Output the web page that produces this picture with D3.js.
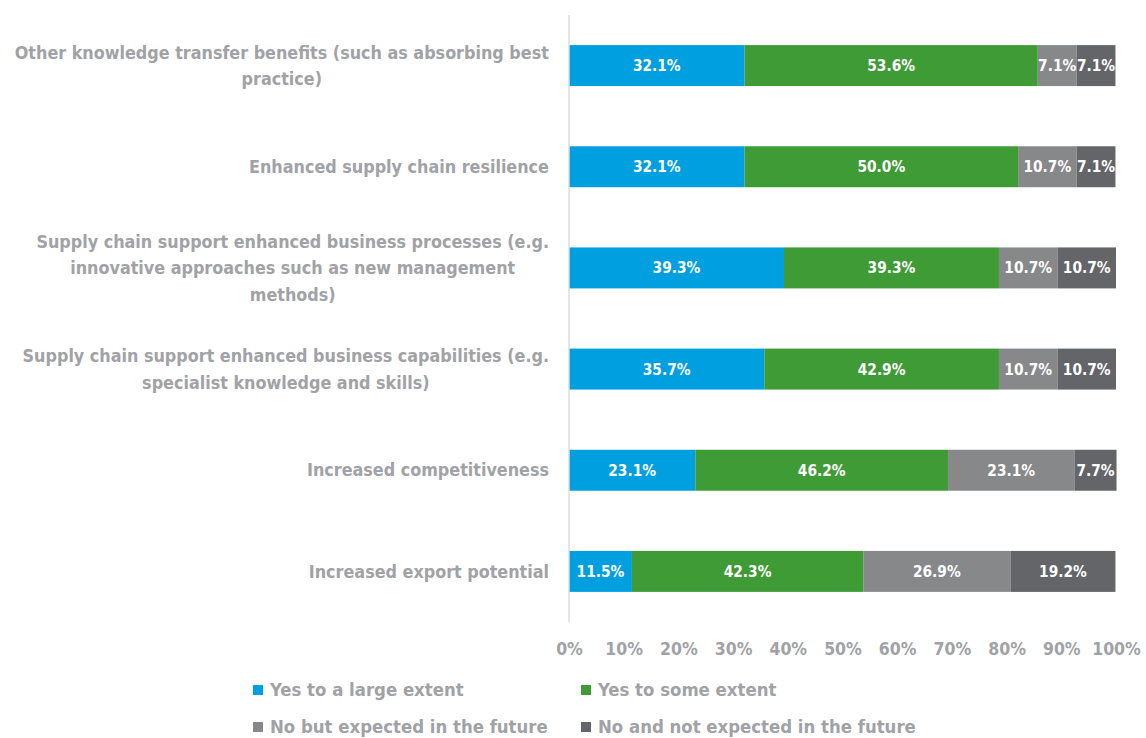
<!DOCTYPE html>
<html>
<head>
<meta charset="utf-8">
<script src="https://cdn.jsdelivr.net/npm/d3@7"></script>
<style>
  html, body { margin: 0; padding: 0; background: #ffffff; }
  svg text { font-family: "DejaVu Sans Condensed", "Liberation Sans Narrow", "Liberation Sans", sans-serif; font-weight: bold; }
</style>
</head>
<body>
<svg id="chart" width="1146" height="738"></svg>
<script>
// Survey categories (top to bottom), each split into display lines
const categories = [
  ["Other knowledge transfer benefits (such as absorbing best", "practice)"],
  ["Enhanced supply chain resilience"],
  ["Supply chain support enhanced business processes (e.g.", "innovative approaches such as new management", "methods)"],
  ["Supply chain support enhanced business capabilities (e.g.", "specialist knowledge and skills)"],
  ["Increased competitiveness"],
  ["Increased export potential"]
];

const seriesNames = [
  "Yes to a large extent",
  "Yes to some extent",
  "No but expected in the future",
  "No and not expected in the future"
];

// Percentage shares per category, one array per response
const largeExtent   = [32.1, 32.1, 39.3, 35.7, 23.1, 11.5];
const someExtent    = [53.6, 50.0, 39.3, 42.9, 46.2, 42.3];
const expectedLater = [7.1, 10.7, 10.7, 10.7, 23.1, 26.9];
const notExpected   = [7.1, 7.1, 10.7, 10.7, 7.7, 19.2];

const tickValues = [0, 10, 20, 30, 40, 50, 60, 70, 80, 90, 100];

const colors = ["#009fe0", "#3e9b35", "#86888a", "#636569"];
const textGrey = "#a0a2a6";

const svg = d3.select("#chart");

const plot = { left: 569, right: 1116, top: 15, bottom: 622 };

const x = d3.scaleLinear().domain([0, 100]).range([plot.left, plot.right]);
const y = d3.scaleBand()
  .domain(d3.range(categories.length))
  .range([plot.top, plot.bottom])
  .paddingInner(0.595)
  .paddingOuter(0.2975);

const rows = categories.map((c, i) => ({
  i,
  values: [largeExtent[i], someExtent[i], expectedLater[i], notExpected[i]]
}));

const stackData = rows.map(r => {
  const o = { i: r.i };
  seriesNames.forEach((s, k) => o[s] = r.values[k]);
  return o;
});
const stacked = d3.stack().keys(seriesNames)(stackData);

// Bars
const layers = svg.append("g").selectAll("g")
  .data(stacked)
  .join("g")
  .attr("fill", (d, k) => colors[k]);

layers.selectAll("rect")
  .data(d => d)
  .join("rect")
  .attr("x", d => x(d[0]))
  .attr("y", d => y(d.data.i))
  .attr("width", d => x(d[1]) - x(d[0]))
  .attr("height", y.bandwidth());

// Value labels inside each segment
layers.selectAll("text")
  .data((d, k) => d.map(seg => ({ seg, key: seriesNames[k] })))
  .join("text")
  .attr("x", d => (x(d.seg[0]) + x(d.seg[1])) / 2)
  .attr("y", d => y(d.seg.data.i) + y.bandwidth() / 2)
  .attr("dy", "0.36em")
  .attr("text-anchor", "middle")
  .attr("fill", "#ffffff")
  .style("font-size", "15.3px")
  .text(d => d.seg.data[d.key].toFixed(1) + "%");

// Vertical axis line
svg.append("line")
  .attr("x1", plot.left).attr("x2", plot.left)
  .attr("y1", plot.top).attr("y2", plot.bottom)
  .attr("stroke", "#dcdcdc")
  .attr("stroke-width", 1.5);

// Category labels (centered block, right edge aligned near the axis)
const lineH = 26.5;
const labelG = svg.append("g");
categories.forEach((lines, i) => {
  const cy = y(i) + y.bandwidth() / 2;
  const t = labelG.append("text")
    .attr("fill", textGrey)
    .style("font-size", "17.8px")
    .attr("text-anchor", "middle");
  const n = lines.length;
  lines.forEach((ln, j) => {
    t.append("tspan")
      .attr("x", 0)
      .attr("y", cy + (j - (n - 1) / 2) * lineH)
      .attr("dy", "0.35em")
      .text(ln);
  });
  // right-align the block at x = 549
  const bb = t.node().getBBox();
  t.attr("transform", `translate(${549 - bb.width / 2},0)`);
});

// X axis
const xAxis = d3.axisBottom(x)
  .tickValues(tickValues)
  .tickFormat(d => d + "%")
  .tickSize(0)
  .tickPadding(0);

const axisG = svg.append("g")
  .attr("transform", `translate(0,${plot.bottom + 21})`)
  .call(xAxis);
axisG.select(".domain").remove();
axisG.selectAll("text")
  .attr("fill", textGrey)
  .style("font-size", "17.5px")
  .style("font-family", null);

// Legend
const legendPos = [[253, 690], [581, 690], [253, 727], [581, 727]];
const legend = svg.append("g").selectAll("g")
  .data(seriesNames)
  .join("g")
  .attr("transform", (d, k) => `translate(${legendPos[k][0]},${legendPos[k][1]})`);
legend.append("rect")
  .attr("x", 0).attr("y", -5)
  .attr("width", 10).attr("height", 10)
  .attr("fill", (d, k) => colors[k]);
legend.append("text")
  .attr("x", 17)
  .attr("dy", "0.35em")
  .attr("fill", textGrey)
  .style("font-size", "18.4px")
  .text(d => d);
</script>
</body>
</html>
